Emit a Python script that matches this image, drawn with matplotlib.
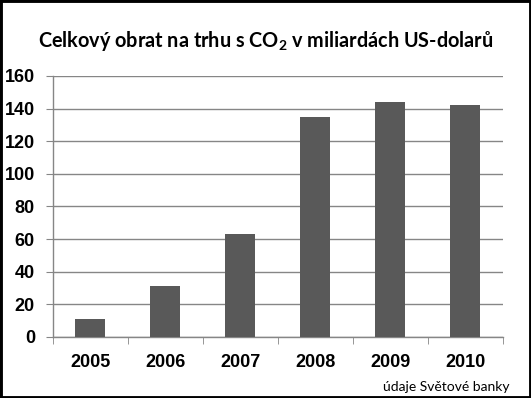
import matplotlib

matplotlib.use("Agg")
import matplotlib.pyplot as plt
import numpy as np
from matplotlib.patches import Rectangle

YEARS = ["2005", "2006", "2007", "2008", "2009", "2010"]
TURNOVER = [11, 31, 63, 135, 144, 142]  # mld. USD
Y_TICKS = [0, 20, 40, 60, 80, 100, 120, 140, 160]

BAR_COLOR = "#595959"
GRID_COLOR = "#868686"

# subscript in the title should use the same bold face
plt.rcParams["mathtext.fontset"] = "custom"
plt.rcParams["mathtext.rm"] = "Lato:bold"
plt.rcParams["mathtext.it"] = "Lato:bold"
plt.rcParams["mathtext.bf"] = "Lato:bold"

fig = plt.figure(figsize=(5.31, 3.98), dpi=100)
ax = fig.add_axes([0.0998, 0.1533, 0.8474, 0.6558])

x = np.arange(len(YEARS))
ax.bar(x, TURNOVER, width=0.4, color=BAR_COLOR, zorder=3)

ax.set_xlim(-0.5, len(YEARS) - 0.5)
ax.set_ylim(0, 160)
ax.set_yticks(Y_TICKS)
ax.set_yticklabels([str(v) for v in Y_TICKS], fontsize=13, fontweight="bold",
                   family="Liberation Sans")
ax.yaxis.grid(True, color=GRID_COLOR, linewidth=1.0, zorder=0)

# category labels centred, tick marks at boundaries
ax.set_xticks(x)
ax.set_xticklabels(YEARS, fontsize=13, fontweight="bold", family="Liberation Sans")
ax.tick_params(axis="x", length=0, pad=12)
ax.set_xticks(np.arange(len(YEARS) + 1) - 0.5, minor=True)
ax.tick_params(axis="x", which="minor", length=5, color=GRID_COLOR, direction="out")
ax.tick_params(axis="y", length=5, color=GRID_COLOR, direction="out", pad=8)

for side in ("top", "right"):
    ax.spines[side].set_visible(False)
for side in ("left", "bottom"):
    ax.spines[side].set_color(GRID_COLOR)
    ax.spines[side].set_linewidth(1.0)

fig.text(0.5, 0.897, "Celkový obrat na trhu s CO$_2$ v miliardách US-dolarů",
         ha="center", va="center", fontsize=14.3, fontweight="bold", family="Lato")
fig.text(0.96, 0.028, "údaje Světové banky", ha="right", va="center", fontsize=10,
         family="Lato")

fig.patches.append(Rectangle((0, 0), 1, 1, transform=fig.transFigure, fill=False,
                             edgecolor="black", linewidth=3.5))

fig.savefig("out.png", dpi=100)
